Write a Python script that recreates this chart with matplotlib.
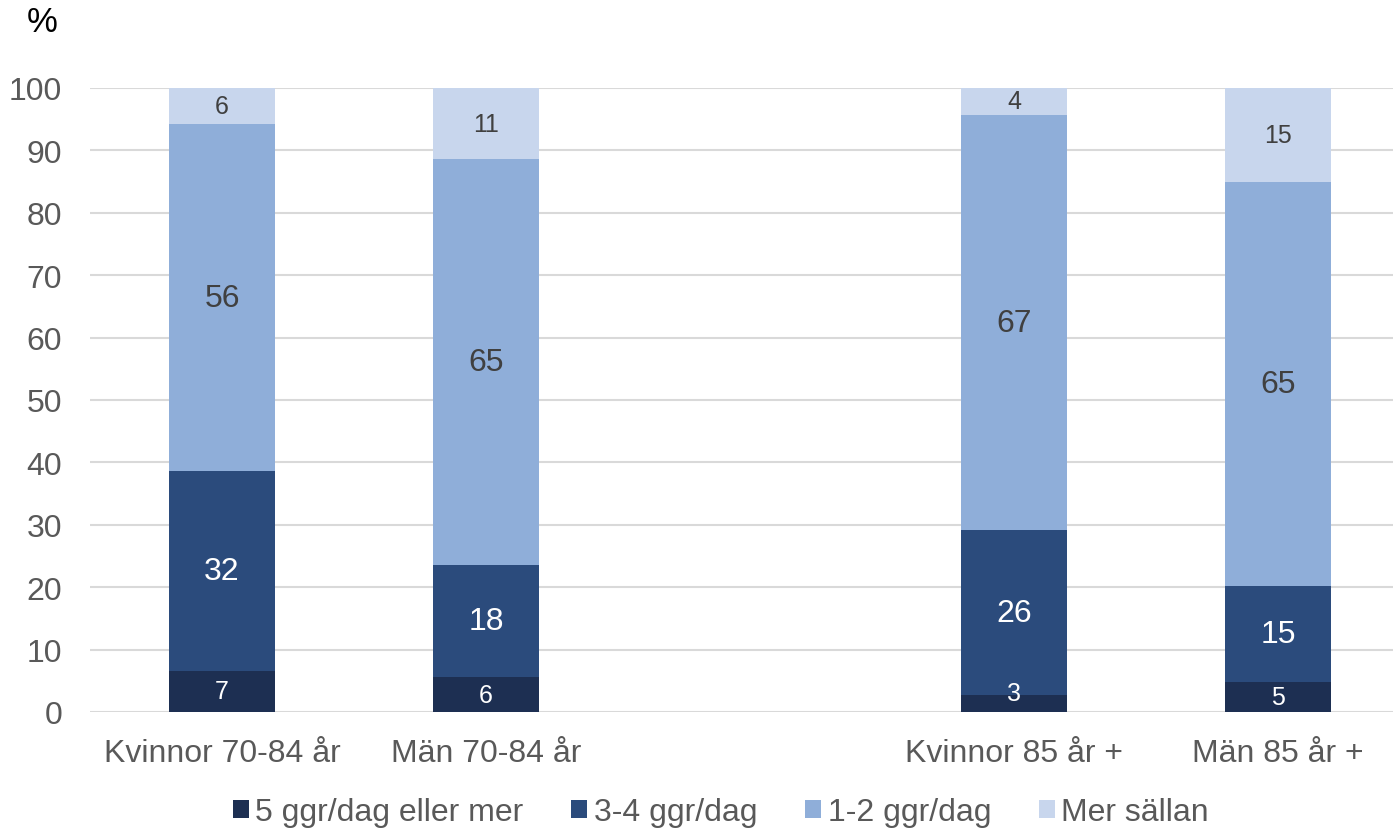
import matplotlib
matplotlib.use("Agg")
import matplotlib.pyplot as plt
import numpy as np

plt.rcParams['font.family'] = ['Liberation Sans', 'DejaVu Sans']

categories = ["Kvinnor 70-84 år", "Män 70-84 år", "", "Kvinnor 85 år +", "Män 85 år +"]
series_names = ["5 ggr/dag eller mer", "3-4 ggr/dag", "1-2 ggr/dag", "Mer sällan"]
s5 = [6.6, 5.6, np.nan, 2.7, 4.8]
s34 = [32.0, 18.0, np.nan, 26.4, 15.4]
s12 = [55.6, 65.0, np.nan, 66.6, 64.7]
smer = [5.8, 11.4, np.nan, 4.3, 15.1]
yticks = [0, 10, 20, 30, 40, 50, 60, 70, 80, 90, 100]

colors = ["#1d2f52", "#2b4b7c", "#8faed9", "#c8d6ed"]
text_colors = ["white", "white", "#404040", "#404040"]
label_sizes = [18, 23, 23, 18]

W, H = 1393, 829
fig = plt.figure(figsize=(W / 100, H / 100), dpi=100)
ax = fig.add_axes([90 / W, 1 - 713 / H, (W - 90) / W, (713 - 89) / H])

x = np.arange(len(categories))
series = [s5, s34, s12, smer]
bottom = np.zeros(len(categories))
for vals, col, tc, fs, name in zip(series, colors, text_colors, label_sizes, series_names):
    v = np.array(vals, dtype=float)
    mask = ~np.isnan(v)
    ax.bar(x[mask], v[mask], bottom=bottom[mask], width=0.4, color=col,
           label=name, zorder=3)
    for xi, vi, bi in zip(x[mask], v[mask], bottom[mask]):
        yc = bi + vi / 2
        if vi < 4:
            yc = bi + 3
        ax.text(xi, yc, f"{vi:.0f}", ha="center", va="center",
                color=tc, fontsize=fs, zorder=4)
    bottom[mask] += v[mask]

ax.set_xlim(-0.5, (W - 90) / 264 - 0.5)
ax.set_ylim(0, 100)
ax.set_yticks(yticks)
ax.set_xticks(x)
ax.set_xticklabels(categories)
ax.tick_params(axis="both", length=0, labelsize=23, labelcolor="#595959")
ax.tick_params(axis="x", pad=19)
ax.tick_params(axis="y", pad=20)
ax.grid(axis="y", color="#d9d9d9", linewidth=1.5, zorder=0)
for s in ax.spines.values():
    s.set_visible(False)

fig.text(42 / W, 1 - 22 / H, "%", fontsize=25, ha="center", va="center", color="black")

handles, labels = ax.get_legend_handles_labels()
leg = fig.legend(handles, labels, loc="center", bbox_to_anchor=(721 / W, 1 - 813 / H),
                 ncol=4, frameon=False, fontsize=23, handlelength=0.5, handleheight=0.5,
                 handletextpad=0.2, columnspacing=1.5, labelcolor="#595959")

fig.savefig("out.png", dpi=100)
